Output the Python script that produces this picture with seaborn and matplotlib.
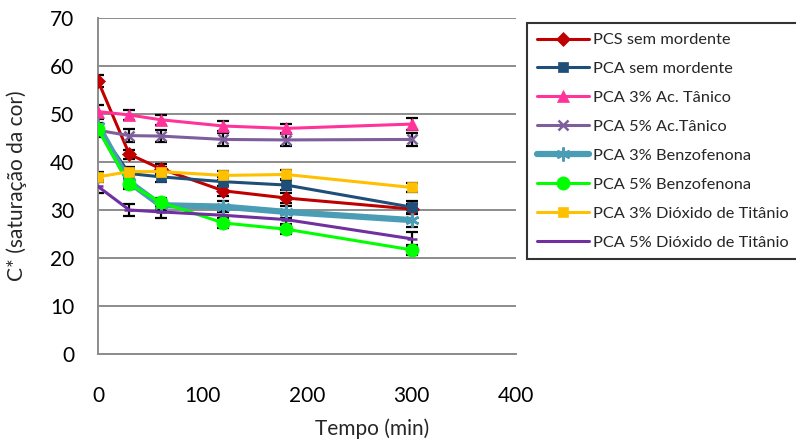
import numpy as np
import pandas as pd
import matplotlib
matplotlib.use("Agg")
import matplotlib.pyplot as plt
import seaborn as sns

# Tempo de exposição (min)
tempo = [0, 30, 60, 120, 180, 300]

series_names = [
    "PCS sem mordente",
    "PCA sem mordente",
    "PCA 3% Ac. Tânico",
    "PCA 5% Ac.Tânico",
    "PCA 3% Benzofenona",
    "PCA 5% Benzofenona",
    "PCA 3% Dióxido de Titânio",
    "PCA 5% Dióxido de Titânio",
]

# C* (saturação da cor) para cada amostra
pcs_sem = [56.9, 41.6, 38.6, 34.0, 32.5, 30.2]
pca_sem = [47.0, 37.6, 36.9, 35.9, 35.2, 30.6]
pca_3_tanico = [50.5, 49.8, 48.8, 47.5, 47.0, 47.9]
pca_5_tanico = [46.6, 45.5, 45.4, 44.7, 44.6, 44.7]
pca_3_benzo = [47.6, 35.8, 31.0, 30.7, 29.6, 27.9]
pca_5_benzo = [46.8, 35.4, 31.6, 27.3, 26.0, 21.7]
pca_3_tio2 = [36.9, 38.0, 38.0, 37.2, 37.4, 34.7]
pca_5_tio2 = [34.9, 30.0, 29.6, 28.9, 28.0, 24.0]

# Desvios padrão
err_pcs_sem = [1.2, 1.0, 1.0, 1.0, 1.0, 1.0]
err_pca_sem = [1.2, 1.0, 1.0, 1.0, 1.0, 1.2]
err_pca_3_tanico = [1.3, 1.0, 1.0, 1.0, 1.0, 1.2]
err_pca_5_tanico = [1.3, 1.3, 1.3, 1.3, 1.2, 1.3]
err_pca_3_benzo = [1.3, 1.0, 1.0, 1.2, 1.2, 1.5]
err_pca_5_benzo = [1.0, 1.0, 1.0, 1.0, 1.0, 1.0]
err_pca_3_tio2 = [1.0, 1.0, 1.0, 1.0, 1.0, 1.0]
err_pca_5_tio2 = [1.3, 1.2, 1.3, 1.2, 1.2, 1.4]

values = [pcs_sem, pca_sem, pca_3_tanico, pca_5_tanico,
          pca_3_benzo, pca_5_benzo, pca_3_tio2, pca_5_tio2]
errors = [err_pcs_sem, err_pca_sem, err_pca_3_tanico, err_pca_5_tanico,
          err_pca_3_benzo, err_pca_5_benzo, err_pca_3_tio2, err_pca_5_tio2]

colors = ["#C00000", "#1F4E79", "#FF3399", "#7E5F9C",
          "#4A9DB5", "#00FF00", "#FFC000", "#7030A0"]
markers = ["D", "s", "^", "x", (6, 2, 0), "o", "s", "_"]
msizes = [7, 7.5, 9, 7.5, 10, 9.5, 7.5, 7]
lwidths = [2.2, 2.2, 2.2, 2.2, 4.5, 2.2, 2.2, 2.2]

df = pd.DataFrame({
    "Tempo": np.tile(tempo, len(series_names)),
    "C": np.concatenate(values),
    "Amostra": np.repeat(series_names, len(tempo)),
})

sns.set_theme(style="white")
plt.rcParams["font.family"] = ["Lato", "DejaVu Sans"]

fig = plt.figure(figsize=(7.96, 4.4), dpi=100)
ax = fig.add_axes([98 / 796, 1 - 354 / 440, (516 - 98) / 796, (354 - 18) / 440])

# barras de erro atrás das linhas
for vals, errs in zip(values, errors):
    ax.errorbar(tempo, vals, yerr=errs, fmt="none", ecolor="black",
                elinewidth=1.6, capsize=4, capthick=1.6, zorder=2)

for i, name in enumerate(series_names):
    sub = df[df["Amostra"] == name]
    m = markers[i]
    kw = dict(markeredgewidth=1.8) if m in ("x", "_") or isinstance(m, tuple) else dict(markeredgewidth=0.5)
    sns.lineplot(data=sub, x="Tempo", y="C", ax=ax, color=colors[i],
                 marker=m, markersize=msizes[i], linewidth=lwidths[i],
                 markeredgecolor=colors[i], label=name, zorder=3 + i, **kw)

ax.set_xlim(0, 400)
ax.set_ylim(0, 70)
ax.set_xticks([0, 100, 200, 300, 400])
ax.set_yticks(range(0, 71, 10))
ax.yaxis.grid(True, color="#8C8C8C", linewidth=1.4)
ax.xaxis.grid(False)
ax.set_axisbelow(True)
for s in ["top", "right"]:
    ax.spines[s].set_visible(False)
for s in ["left", "bottom"]:
    ax.spines[s].set_color("#8C8C8C")
    ax.spines[s].set_linewidth(1.4)
ax.tick_params(axis="both", which="major", labelsize=15, colors="#8C8C8C",
               labelcolor="black", length=7, width=1.4, direction="out")
ax.tick_params(axis="x", pad=16)
ax.tick_params(axis="y", pad=10)
ax.set_xlabel("Tempo (min)", fontsize=15)
ax.xaxis.set_label_coords(0.655, -0.193)
ax.set_ylabel("C* (saturação da cor)", fontsize=15)
ax.yaxis.set_label_coords(-0.17, 0.5)

leg = ax.legend(loc="upper left", bbox_to_anchor=(527 / 796, 1 - 23 / 440),
                bbox_transform=fig.transFigure, fontsize=11.8, frameon=True,
                fancybox=False, edgecolor="black", handlelength=3.2,
                handletextpad=0.25, labelspacing=0.88, borderpad=0.6,
                borderaxespad=0)
leg.get_frame().set_linewidth(1.5)

fig.savefig("out.png", dpi=100)
